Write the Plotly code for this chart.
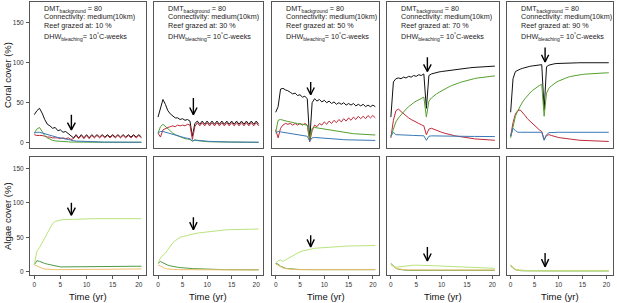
import plotly.graph_objects as go

# ---------------- data ----------------
t = [0,0.5,1,1.5,2,2.5,3,3.5,4,4.5,5,5.5,6,6.5,7,7.5,8,8.5,9,9.5,10,10.5,11,11.5,12,12.5,13,13.5,14,14.5,15,15.5,16,16.5,17,17.5,18,18.5,19,19.5,20,20.5]
grazed = ["10 %", "30 %", "50 %", "70 %", "90 %"]
x_ticks = [0, 5, 10, 15, 20]
y_ticks = [0, 50, 100, 150]

coral_total_10 = [35,40,43,37,29,23,21,18,19,15,16,13,14,11,9,6,10,6,10,6,10,6,10,7,10,7,10,7,10,7,10,7,10,7,10,7,10,7,10,7,10,7]
coral_red_10 = [10,9,9,9,8,7,7,6,6,6,5,6,5,6,4,5,9,5,9,5,9,5,9,6,9,6,9,6,9,6,9,6,9,6,9,6,9,6,9,6,9,6]
coral_green_10 = [12,17,19,14,9,6,4,3,2.2,1.8,1.5,1.2,1,1,0.8,0.7,0.6,0.6,0.5,0.5,0.5,0.5,0.5,0.5,0.5,0.5,0.5,0.5,0.5,0.5,0.5,0.5,0.5,0.5,0.5,0.5,0.5,0.5,0.5,0.5,0.5,0.5]
coral_blue_10 = [12,13,13,12,11,10,9,8,7,6.5,6,5,4.5,4,3,2.5,2,1.8,1.6,1.4,1.2,1,1,0.9,0.9,0.8,0.8,0.7,0.7,0.7,0.6,0.6,0.6,0.6,0.5,0.5,0.5,0.5,0.5,0.5,0.5,0.5]
algae_light_10 = [10,30,35,42,50,58,65,70,73,74.5,75,75.5,76,76,76,76,76.3,76.5,76.5,76.8,77,77,77,77,77,77,77,77,77,77,77,77,77,77,77,77,77,77,77,77,77,77]
algae_dark_10 = [10,16,15,13,12,11,10,9,8,7.5,7,7,7,7,7,7,7,7,7.1,7.2,7.3,7.4,7.5,7.6,7.7,7.8,7.8,7.9,8,8,8,8,8,8,8,8,8,8,8,8,8,8]
algae_orange_10 = [10,8,6,5,4,3.5,3.2,3,3,3,3,3,3,3.1,3.1,3.2,3.2,3.3,3.3,3.4,3.4,3.5,3.5,3.5,3.6,3.6,3.6,3.7,3.7,3.7,3.8,3.8,3.8,3.8,3.9,3.9,3.9,3.9,4,4,4,4]

coral_total_30 = [32,45,54,48,40,36,33,31,31,29,30,28,29,27,8,24,27,23,27,23,27,23,27,23,27,23,27,23,27,23,27,23,27,23,27,23,27,23,27,23,27,23]
coral_red_30 = [12,7,16,18,19,20,21,20,22,21,22,21,23,22,4,20,25,21,25,21,25,21,25,21,25,21,25,21,25,21,25,21,25,21,25,21,25,21,25,21,25,21]
coral_green_30 = [12,20,23,20,17,14,12,10,8.5,7,6,5,4.5,4,2,3,2.5,2,1.8,1.5,1.3,1.1,1,0.9,0.8,0.7,0.7,0.6,0.6,0.5,0.5,0.5,0.5,0.5,0.5,0.5,0.5,0.5,0.5,0.5,0.5,0.5]
coral_blue_30 = [12,14,14,13,12,11,10,9,8,7.5,7,6,5.5,5,2,3.5,3,2.5,2.2,2,1.8,1.6,1.4,1.3,1.2,1.1,1,0.9,0.9,0.8,0.8,0.7,0.7,0.7,0.6,0.6,0.6,0.6,0.5,0.5,0.5,0.5]
algae_light_30 = [12,20,24,27,32,37,42,45,48,50,51,52,53,54,55,55.5,56,56.5,57,57.5,58,58.5,59,59.5,60,60,60.5,60.5,61,61,61,61.5,61.5,61.5,62,62,62,62,62,62,62,62]
algae_dark_30 = [12,15,13,11,9.5,8.5,7.5,7,6.5,6,5.5,5,5,4.8,4.6,4.4,4.2,4,3.8,3.6,3.5,3.4,3.3,3.2,3.1,3,3,3,3,2.9,2.9,2.9,2.9,2.8,2.8,2.8,2.8,2.8,2.8,2.8,2.8,2.8]
algae_orange_30 = [10,8,6,4.5,4,3.5,3.2,3,3,3,3,3,3,3,3,3,3,3,2.9,2.9,2.9,2.8,2.8,2.8,2.8,2.7,2.7,2.7,2.7,2.6,2.6,2.6,2.6,2.6,2.5,2.5,2.5,2.5,2.5,2.5,2.5,2.5]

coral_total_50 = [38,45,67,68,66,65,63,61,62,59,60,57,58,55,3,50,55,52,54,51,53,50,52,49,51,48,50,48,50,47,49,47,49,46,48,46,48,45,47,45,47,45]
coral_red_50 = [16,6,18,22,24,23,24,22,24,22,24,22,24,22,1,15,22,20,24,22,26,23,27,24,28,25,29,26,30,27,31,28,32,29,33,30,33,30,34,31,34,31]
coral_green_50 = [13,28,29,28,27,26.5,26,25,24.5,24,23.5,23,22.5,22,5,18,19,18.5,18,17,16.5,16,15.5,15,14.5,14,13.5,13,12.5,12,11.8,11.5,11.2,11,10.8,10.5,10.3,10.1,10,9.8,9.7,9.6]
coral_blue_50 = [12,14,13.5,13,12.5,12,11.5,11,10.5,10,9.5,9,8.5,8,2,6,6.5,6.2,6,5.7,5.4,5.1,4.9,4.7,4.5,4.3,4.1,3.9,3.8,3.6,3.5,3.4,3.3,3.2,3.1,3,3,2.9,2.9,2.8,2.8,2.8]
algae_light_50 = [12,16,17,15,17,19,21,24,26,28,29,30,31,32,33,33.5,34,34.3,34.6,35,35.3,35.6,36,36.2,36.4,36.6,36.8,37,37.1,37.2,37.3,37.4,37.5,37.6,37.7,37.8,37.8,37.9,37.9,38,38,38]
algae_dark_50 = [12,11,8,6,5,4.5,4,3.8,3.6,3.4,3.2,3,3,3,3,3,3,3,3,3,3,3,3,3,3,3,3,3,3,3,3,3,3,3,3,3,3,3,3,3,3,3]
algae_orange_50 = [11,9,7,5.5,4.5,4,3.6,3.3,3.1,3,3,3,3,3,3,3,3,3,3,3,3,3,3,3,3,3,3,3,3,3,3,3,3,3,3,3,3,3,3,3,3,3]

coral_total_70 = [32,76,80,81,80,82,81,83,82,84,83,85,84,86,43,84,86,87,88,88.5,89,89.5,90,90.5,91,91.5,92,92.3,92.6,93,93.3,93.6,94,94.2,94.4,94.6,94.8,95,95.2,95.4,95.6,95.8]
coral_red_70 = [6,28,40,42,39,36,33,31,29,27,25.5,24,22.5,21,10,17,18,16.5,15,14,13,12,11,10.2,9.5,8.8,8.2,7.6,7,6.5,6,5.6,5.2,4.8,4.5,4.2,4,3.8,3.6,3.4,3.2,3]
coral_green_70 = [8,18,26,31,35,39,42,45,48,50,52,54,55.5,57,32,52,56,59,61,63,65,67,68.5,70,71.5,73,74,75,76,77,78,78.8,79.5,80.2,80.8,81.3,81.8,82.2,82.6,83,83.3,83.6]
coral_blue_70 = [8,13,10,10,9.8,9.6,9.5,9.3,9.2,9,8.9,8.8,8.7,8.6,3,8,8.5,8.4,8.3,8.2,8.2,8.1,8.1,8,8,8,8,7.9,7.9,7.9,7.8,7.8,7.8,7.8,7.7,7.7,7.7,7.7,7.6,7.6,7.6,7.6]
algae_light_70 = [11,8,6.5,7,8,8.5,9,9.2,9.4,9.5,9.5,9.5,9.5,9.4,9.3,9.2,9,8.8,8.6,8.4,8.2,8,7.8,7.6,7.4,7.2,7,6.8,6.6,6.4,6.2,6,5.9,5.8,5.6,5.5,5.4,5.3,5.2,5.1,5,4.9]
algae_dark_70 = [12,8,5,3.5,2.8,2.4,2.2,2,2,2,2,2,2,2,2,2,2,2,2,2,2,2,2,2,2,2,2,2,2,2,2,2,2,2,2,2,2,2,2,2,2,2]
algae_orange_70 = [10,7,5,4,3.3,3,2.8,2.7,2.6,2.5,2.5,2.5,2.5,2.5,2.5,2.5,2.5,2.5,2.5,2.5,2.5,2.5,2.5,2.5,2.5,2.5,2.5,2.5,2.5,2.5,2.5,2.5,2.5,2.5,2.5,2.5,2.5,2.5,2.5,2.5,2.5,2.5]

coral_total_90 = [38,80,89,91,92,93,94,95,95.5,96,96.5,97,97.3,97.6,41,95,97,98,98.5,99,99.2,99.4,99.5,99.6,99.7,99.8,99.8,99.9,99.9,100,100,100,100,100,100,100,100,100,100,100,100,100]
coral_red_90 = [8,25,36,40,41,38,34,30,27,24,21,18.5,16,14,4,9,10,9,8,7.2,6.5,6,5.5,5,4.6,4.2,3.9,3.6,3.3,3,2.8,2.6,2.4,2.2,2.1,2,1.9,1.8,1.7,1.6,1.5,1.5]
coral_green_90 = [6,22,33,40,46,51,55,59,62,65,67.5,69.5,71.5,73,33,62,68,71,73.5,75.5,77,78.5,79.8,81,82,82.8,83.5,84.1,84.6,85,85.4,85.7,86,86.2,86.4,86.6,86.8,87,87.1,87.2,87.3,87.4]
coral_blue_90 = [8,18,15,13,13,13,13,13,13,13,13,13,13,13,3,10,12.5,12.8,13,13,13,13,13,13,13,13,13,13,13,13,13,13,13,13,13,13,13,13,13,13,13,13]
algae_light_90 = [10,6,3.5,2.5,2,1.8,1.6,1.5,1.5,1.5,1.5,1.5,1.5,1.5,1.5,1.5,1.5,1.5,1.5,1.5,1.5,1.5,1.5,1.5,1.5,1.5,1.5,1.5,1.5,1.5,1.5,1.5,1.5,1.5,1.5,1.5,1.5,1.5,1.5,1.5,1.5,1.5]
algae_dark_90 = [9,5,3,2,1.6,1.4,1.3,1.2,1.2,1.2,1.2,1.2,1.2,1.2,1.2,1.2,1.2,1.2,1.2,1.2,1.2,1.2,1.2,1.2,1.2,1.2,1.2,1.2,1.2,1.2,1.2,1.2,1.2,1.2,1.2,1.2,1.2,1.2,1.2,1.2,1.2,1.2]
algae_orange_90 = [8,5,3,2.3,2,1.8,1.7,1.6,1.6,1.6,1.6,1.6,1.6,1.6,1.6,1.6,1.6,1.6,1.6,1.6,1.6,1.6,1.6,1.6,1.6,1.6,1.6,1.6,1.6,1.6,1.6,1.6,1.6,1.6,1.6,1.6,1.6,1.6,1.6,1.6,1.6,1.6]

arrow_time = [7.1, 7.2, 7.2, 7.2, 7.2]
arrow_tip_coral = [16, 35, 60, 89, 101]
arrow_tail_coral = [35, 56, 76, 107, 119]
arrow_tip_algae = [82, 61, 36, 15.5, 7.3]
arrow_tail_algae = [100, 79, 53, 36, 27]

coral_sets = [
    (coral_total_10, coral_red_10, coral_green_10, coral_blue_10),
    (coral_total_30, coral_red_30, coral_green_30, coral_blue_30),
    (coral_total_50, coral_red_50, coral_green_50, coral_blue_50),
    (coral_total_70, coral_red_70, coral_green_70, coral_blue_70),
    (coral_total_90, coral_red_90, coral_green_90, coral_blue_90),
]
algae_sets = [
    (algae_dark_10, algae_orange_10, algae_light_10),
    (algae_dark_30, algae_orange_30, algae_light_30),
    (algae_dark_50, algae_orange_50, algae_light_50),
    (algae_dark_70, algae_orange_70, algae_light_70),
    (algae_dark_90, algae_orange_90, algae_light_90),
]

# ---------------- style / layout ----------------
W, H = 617, 303
FONT = "Liberation Sans, Arial, Helvetica, sans-serif"
coral_colors = ["#111111", "#c0283a", "#55a030", "#3a78b5"]
algae_colors = ["#4e9a45", "#efbf6f", "#b9e37c"]
panel_x = [(30, 145.7), (154, 262.7), (271.7, 379.3), (386.7, 499), (506.7, 612.7)]
top_y = (2, 147.7)
bot_y = (156.7, 275.3)
xr = [-0.82, 21.32]
yr_top = [-6.3, 176]
yr_bot = [-5.2, 167]

fig = go.Figure()
layout = dict(width=W, height=H, margin=dict(l=0, r=0, t=0, b=0),
              paper_bgcolor="white", plot_bgcolor="white", showlegend=False,
              font=dict(family=FONT, color="#222"))
annotations = []

def ax_common():
    return dict(showgrid=False, zeroline=False, showline=True, mirror=True,
                linecolor="#555", linewidth=1)

for k in range(5):
    x0, x1 = panel_x[k]
    for row in range(2):
        idx = k + 1 + 5 * row
        yy = top_y if row == 0 else bot_y
        xa = ax_common()
        xa.update(domain=[x0 / W, x1 / W], range=xr, anchor="y%d" % idx)
        ya = ax_common()
        ya.update(domain=[1 - yy[1] / H, 1 - yy[0] / H],
                  range=yr_top if row == 0 else yr_bot, anchor="x%d" % idx)
        if row == 1:
            xa.update(tickmode="array", tickvals=x_ticks, ticks="outside", ticklen=3,
                      tickcolor="#555", tickfont=dict(size=6.5, color="#333"),
                      showticklabels=True)
        else:
            xa.update(showticklabels=False, ticks="")
        if k == 0:
            ya.update(tickmode="array", tickvals=y_ticks, ticks="outside", ticklen=3,
                      tickcolor="#555", tickfont=dict(size=6.5, color="#333"),
                      showticklabels=True, ticklabelstandoff=1)
        else:
            ya.update(showticklabels=False, ticks="")
        layout["xaxis%d" % idx] = xa
        layout["yaxis%d" % idx] = ya

    # coral lines
    for series, col in zip(coral_sets[k], coral_colors):
        fig.add_trace(go.Scatter(x=t[:len(series)], y=series, mode="lines",
                                 line=dict(color=col, width=1),
                                 xaxis="x%d" % (k + 1), yaxis="y%d" % (k + 1)))
    # algae lines
    for series, col in zip(algae_sets[k], algae_colors):
        fig.add_trace(go.Scatter(x=t[:len(series)], y=series, mode="lines",
                                 line=dict(color=col, width=1),
                                 xaxis="x%d" % (k + 6), yaxis="y%d" % (k + 6)))
    # arrows
    a = arrow_time[k]
    for tip, tail, hh, ax_i in ((arrow_tip_coral[k], arrow_tail_coral[k], 9, k + 1),
                                (arrow_tip_algae[k], arrow_tail_algae[k], 11, k + 6)):
        fig.add_trace(go.Scatter(x=[a, a, None, a - 0.75, a, a + 0.75],
                                 y=[tail, tip, None, tip + hh, tip, tip + hh],
                                 mode="lines", line=dict(color="black", width=1.4),
                                 xaxis="x%d" % ax_i, yaxis="y%d" % ax_i))

    # panel texts
    lx = (x0 + 12) / W
    lines = [("DMT<sub>background</sub> = 80", 9.5),
             ("Connectivity: medium(10km)", 16.5),
             ("Reef grazed at: " + grazed[k], 25.5),
             ("DHW<sub>bleaching</sub>= 10<sup>°</sup>C-weeks", 36.5)]
    for txt, py in lines:
        annotations.append(dict(text=txt, x=lx, y=1 - py / H, xref="paper", yref="paper",
                                xanchor="left", yanchor="middle", showarrow=False,
                                font=dict(size=7.2, color="#222", family=FONT)))
    # x title
    annotations.append(dict(text="Time (yr)", x=(x0 + x1) / 2 / W, y=1 - 296 / H,
                            xref="paper", yref="paper", xanchor="center", yanchor="middle",
                            showarrow=False, font=dict(size=9.5, color="#111", family=FONT)))

annotations.append(dict(text="Coral cover (%)", x=7 / W, y=1 - 75 / H, xref="paper", yref="paper",
                        textangle=-90, xanchor="center", yanchor="middle", showarrow=False,
                        font=dict(size=9.5, color="#111", family=FONT)))
annotations.append(dict(text="Algae cover (%)", x=7 / W, y=1 - 216 / H, xref="paper", yref="paper",
                        textangle=-90, xanchor="center", yanchor="middle", showarrow=False,
                        font=dict(size=9.5, color="#111", family=FONT)))
layout["annotations"] = annotations
fig.update_layout(**layout)
fig.write_html("out.html", config={"displayModeBar": False},
               post_script="document.body.style.margin='0';document.body.style.overflow='hidden';")
